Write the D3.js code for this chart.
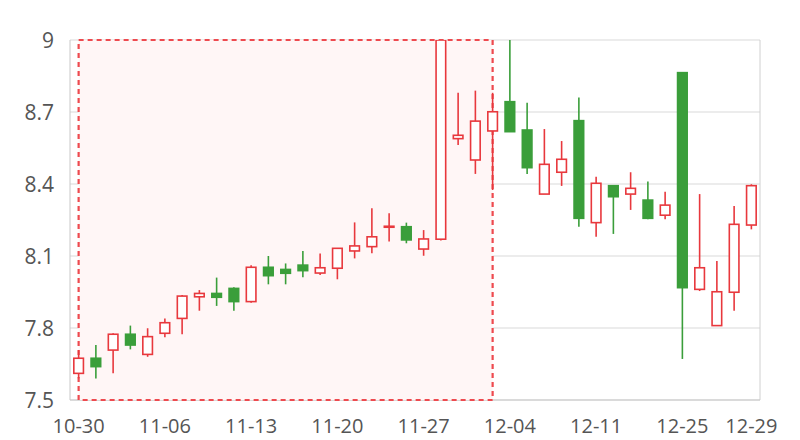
<!DOCTYPE html>
<html><head><meta charset="utf-8">
<script src="https://cdn.jsdelivr.net/npm/d3@7/dist/d3.min.js"></script>
<style>body{margin:0;background:#fff}svg{display:block}</style>
</head><body><svg id="c" width="800" height="440"></svg>
<script>
const dates = ["10-30","10-31","11-01","11-02","11-03","11-06","11-07","11-08","11-09","11-10",
"11-13","11-14","11-15","11-16","11-17","11-20","11-21","11-22","11-23","11-24",
"11-27","11-28","11-29","11-30","12-01","12-04","12-05","12-06","12-07","12-08",
"12-11","12-12","12-13","12-14","12-15","12-25","12-26","12-27","12-28","12-29"];
const openV  = [7.611,7.674,7.708,7.774,7.690,7.778,7.840,7.930,7.944,7.965,
7.910,8.053,8.044,8.062,8.029,8.049,8.121,8.139,8.220,8.222,
8.129,8.170,8.589,8.500,8.621,8.743,8.625,8.358,8.449,8.664,
8.239,8.393,8.358,8.333,8.270,8.864,7.961,7.810,7.949,8.229];
const closeV = [7.674,7.639,7.774,7.729,7.764,7.822,7.933,7.944,7.928,7.910,
8.053,8.018,8.028,8.039,8.051,8.132,8.142,8.180,8.224,8.167,
8.171,9.000,8.603,8.662,8.701,8.618,8.468,8.482,8.503,8.257,
8.403,8.347,8.382,8.257,8.312,7.968,8.051,7.951,8.232,8.393];
const highV  = [7.708,7.729,7.778,7.810,7.799,7.840,7.938,7.958,8.010,7.970,
8.061,8.100,8.069,8.121,8.110,8.132,8.240,8.299,8.278,8.239,
8.208,9.000,8.780,8.789,8.780,9.000,8.739,8.629,8.579,8.760,
8.430,8.393,8.449,8.410,8.368,8.864,8.358,8.079,8.308,8.399];
const lowV   = [7.590,7.590,7.611,7.711,7.680,7.761,7.774,7.872,7.892,7.872,
7.905,7.982,7.982,8.011,8.021,8.003,8.090,8.111,8.160,8.153,
8.101,8.165,8.562,8.442,8.375,8.618,8.442,8.358,8.392,8.222,
8.180,8.192,8.292,8.253,8.253,7.671,7.954,7.810,7.872,8.211];
const yTicks = [7.5,7.8,8.1,8.4,8.7,9];
const xLabelIdx = [0,5,10,15,20,25,30,35,39];
const areaFrom = "10-30", areaTo = "12-01";

const UP = "#e8383d", DOWN = "#3a9e3a";
const svg = d3.select("#c");
const L = 70, R = 760, T = 40, B = 400;
const x = d3.scaleBand().domain(dates).range([L, R]).paddingInner(0.35).paddingOuter(0.175);
const y = d3.scaleLinear().domain([7.5, 9]).range([B, T]);
const cx = d => x(d) + x.bandwidth() / 2;

// grid
svg.append("g").selectAll("line").data(yTicks).join("line")
  .attr("x1", L).attr("x2", R).attr("y1", d => y(d)).attr("y2", d => y(d))
  .attr("stroke", "#d9d9d9").attr("stroke-width", 1);
// frame
svg.append("line").attr("x1", R).attr("x2", R).attr("y1", T).attr("y2", B).attr("stroke", "#d0d0d0");
svg.append("line").attr("x1", L).attr("x2", L).attr("y1", T).attr("y2", B).attr("stroke", "#c8c8c8");
svg.append("line").attr("x1", L).attr("x2", R).attr("y1", B).attr("y2", B).attr("stroke", "#c8c8c8");

// mark area
svg.append("rect")
  .attr("x", cx(areaFrom)).attr("y", y(9))
  .attr("width", cx(areaTo) - cx(areaFrom)).attr("height", y(7.5) - y(9))
  .attr("fill", "#fff6f6").attr("stroke", "#ee4a4f").attr("stroke-width", 2.2)
  .attr("stroke-dasharray", "5,4");

// clip
svg.append("clipPath").attr("id", "clip").append("rect")
  .attr("x", L).attr("y", T).attr("width", R - L).attr("height", B - T);

const data = dates.map((d, i) => ({d, o: openV[i], c: closeV[i], h: highV[i], l: lowV[i]}));
const g = svg.append("g").attr("clip-path", "url(#clip)");
const bw = x.bandwidth();
data.forEach(p => {
  const up = p.c >= p.o;
  const col = up ? UP : DOWN;
  const top = y(Math.max(p.o, p.c)), bot = y(Math.min(p.o, p.c));
  const xc = cx(p.d);
  g.append("line").attr("x1", xc).attr("x2", xc).attr("y1", y(p.h)).attr("y2", top)
    .attr("stroke", col).attr("stroke-width", 1.6);
  g.append("line").attr("x1", xc).attr("x2", xc).attr("y1", bot).attr("y2", y(p.l))
    .attr("stroke", col).attr("stroke-width", 1.6);
  g.append("rect").attr("x", x(p.d) + 0.8).attr("y", top)
    .attr("width", bw - 1.6).attr("height", Math.max(bot - top, 1))
    .attr("fill", up ? "#fff" : DOWN).attr("stroke", col).attr("stroke-width", 1.6);
});

// y labels
svg.append("g").selectAll("text").data(yTicks).join("text")
  .attr("x", 54).attr("y", d => y(d)).attr("dy", "0.36em")
  .attr("text-anchor", "end").attr("fill", "#555")
  .attr("font-family", "'Open Sans', 'Noto Sans', sans-serif").attr("font-size", 21)
  .text(d => d);
// x labels
svg.append("g").selectAll("text").data(xLabelIdx).join("text")
  .attr("x", i => cx(dates[i])).attr("y", 433)
  .attr("text-anchor", "middle").attr("fill", "#555")
  .attr("font-family", "'Open Sans', 'Noto Sans', sans-serif").attr("font-size", 20)
  .text(i => dates[i]);
</script></body></html>
